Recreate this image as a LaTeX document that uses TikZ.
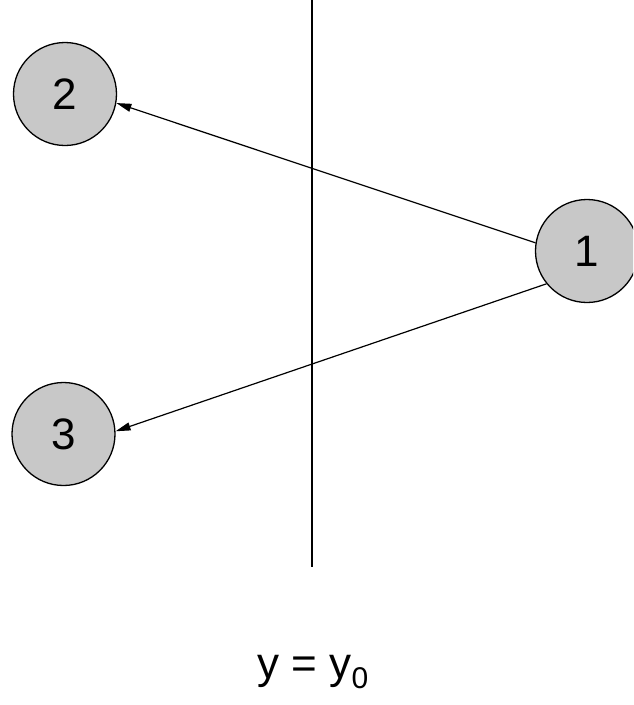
\documentclass[tikz,border=0pt]{standalone}
\usepackage{fontspec}
\setmainfont{Liberation Sans}
\usetikzlibrary{arrows.meta}
\definecolor{nodefill}{RGB}{200,200,200}
\tikzset{
  state/.style={circle, draw=black, line width=1.3pt, fill=nodefill,
    minimum size=103pt, inner sep=0pt, font=\fontsize{44}{50}\selectfont},
  edge/.style={line width=1.2pt, -{Triangle[length=15pt,width=8pt]}},
}
\begin{document}
\begin{tikzpicture}[x=1pt,y=-1pt]
  \useasboundingbox (0,0) rectangle (633,705);
  \begin{scope}
    \clip (0,0) rectangle (633,705);
    \node[state] (n2) at (65,94) {2};
    \node[state] (n3) at (63.5,434) {3};
    \node[state] (n1) at (587,251) {1};
  \end{scope}
  \coordinate (top) at (312,0);
  \coordinate (bot) at (312,567);
  \draw[line width=1.2pt] (top) -- (bot);
  \draw[edge] (n1.171) -- (n2.-10);
  \draw[edge] (n1.219) -- (n3.3);
  \node[font=\fontsize{44}{50}\selectfont, anchor=base] (eq) at (313,678)
    {y = y\raisebox{-10pt}{\fontsize{30}{34}\selectfont 0}};
\end{tikzpicture}
\end{document}
